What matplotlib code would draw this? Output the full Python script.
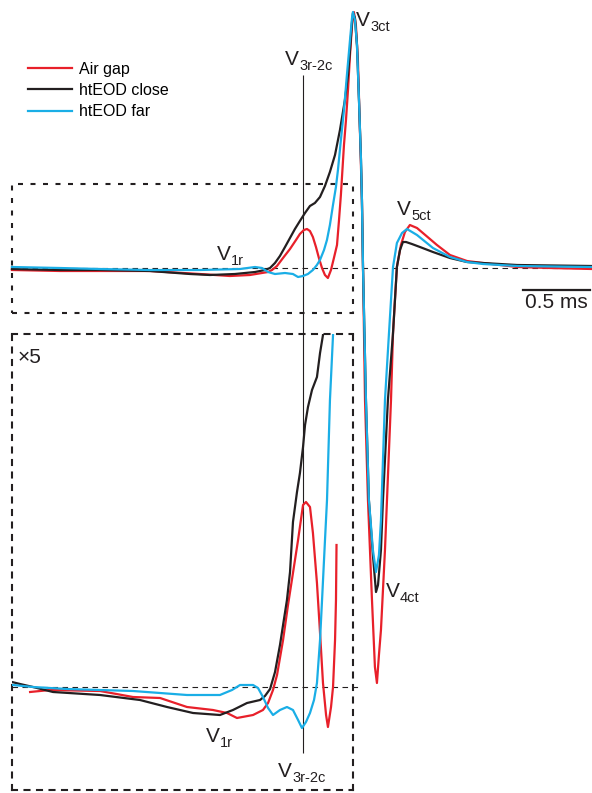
import matplotlib
matplotlib.use("Agg")
import matplotlib.pyplot as plt
from matplotlib.patches import Rectangle

plt.rcParams['font.family'] = ['Liberation Sans', 'DejaVu Sans']

RED = '#e8202a'
BLACK = '#231f20'
BLUE = '#1aaee6'

# time in ms (0 = V3ct peak), amplitude in arbitrary units
### full-scale traces
t_air = [-2.545, -2.187, -1.888, -1.515, -1.142, -0.918, -0.769, -0.679, -0.634, -0.604,
         -0.567, -0.522, -0.470, -0.425, -0.396, -0.366, -0.343, -0.321, -0.299, -0.276,
         -0.254, -0.231, -0.209, -0.187, -0.164, -0.142, -0.119, -0.104, -0.090, -0.067,
         -0.052, -0.037, -0.022, -0.007, 0.007, 0.022, 0.037, 0.052, 0.067, 0.075,
         0.090, 0.112, 0.142, 0.164, 0.179, 0.194, 0.209, 0.239, 0.254, 0.284,
         0.299, 0.328, 0.358, 0.388, 0.425, 0.478, 0.522, 0.627, 0.724, 0.851,
         0.970, 1.224, 1.470, 1.784]
v_air = [-0.2, -0.3, -0.3, -0.3, -0.6, -0.8, -0.7, -0.5, -0.4, -0.2,
         0.2, 1.0, 1.9, 2.8, 3.4, 3.8, 3.9, 3.7, 3.1, 2.1,
         1.0, 0.0, -0.7, -1.0, -0.2, 1.0, 2.3, 4.8, 7.3, 12.3,
         14.8, 17.8, 21.3, 24.3, 25.6, 24.3, 20.8, 13.8, 6.8, 0.1,
         -13.2, -23.2, -33.2, -39.9, -41.5, -38.7, -36.2, -28.2, -23.2, -13.2,
         -6.5, 0.1, 2.3, 3.6, 4.3, 4.0, 3.5, 2.3, 1.3, 0.7,
         0.5, 0.1, 0.0, -0.1]

t_close = [-2.545, -2.187, -1.888, -1.515, -1.216, -1.067, -0.881, -0.731, -0.657, -0.619,
           -0.582, -0.545, -0.507, -0.470, -0.433, -0.396, -0.358, -0.321, -0.284, -0.246,
           -0.209, -0.172, -0.134, -0.097, -0.060, -0.037, -0.022, -0.007, 0.000, 0.015,
           0.030, 0.045, 0.060, 0.067, 0.075, 0.097, 0.119, 0.149, 0.172, 0.187,
           0.209, 0.224, 0.261, 0.299, 0.328, 0.351, 0.373, 0.396, 0.440, 0.500,
           0.597, 0.724, 0.851, 0.970, 1.224, 1.784]
v_close = [-0.1, -0.2, -0.2, -0.3, -0.6, -0.7, -0.6, -0.4, -0.2, 0.0,
           0.5, 1.2, 2.1, 3.0, 3.9, 4.7, 5.5, 6.2, 6.5, 7.1,
           8.2, 9.6, 11.3, 13.8, 16.8, 19.3, 21.8, 24.6, 25.5, 25.0,
           22.3, 16.8, 10.8, 6.8, 0.1, -13.2, -23.2, -28.7, -32.4, -31.7,
           -28.2, -23.2, -13.2, -6.5, 0.1, 1.8, 2.6, 2.6, 2.4, 2.1,
           1.6, 1.0, 0.6, 0.5, 0.3, 0.2]

t_far = [-2.545, -2.187, -1.888, -1.515, -1.142, -0.843, -0.731, -0.679, -0.634, -0.582,
         -0.507, -0.448, -0.410, -0.373, -0.336, -0.299, -0.269, -0.246, -0.216, -0.194,
         -0.172, -0.149, -0.127, -0.112, -0.090, -0.067, -0.045, -0.022, -0.007, 0.000,
         0.015, 0.030, 0.045, 0.060, 0.067, 0.075, 0.097, 0.119, 0.149, 0.172,
         0.194, 0.209, 0.224, 0.239, 0.269, 0.299, 0.328, 0.366, 0.403, 0.478,
         0.597, 0.724, 0.851, 0.970, 1.224, 1.784]
v_far = [0.1, 0.0, -0.1, -0.2, -0.2, -0.1, 0.1, 0.0, -0.4, -0.6,
         -0.5, -0.6, -0.9, -0.8, -0.6, -0.2, 0.3, 0.8, 1.8, 2.8,
         4.3, 6.3, 8.1, 9.8, 12.8, 15.8, 19.3, 22.8, 25.0, 25.6,
         24.8, 22.3, 16.8, 10.8, 6.8, 0.1, -13.2, -23.2, -28.2, -30.4,
         -28.7, -25.2, -19.2, -13.2, -6.5, 0.1, 2.5, 3.5, 3.9, 3.3,
         2.0, 1.1, 0.6, 0.4, 0.2, 0.1]

### x5 traces (early part)
tz_air = [-2.410, -2.261, -1.888, -1.642, -1.440, -1.239, -1.045, -0.940, -0.866, -0.746,
          -0.672, -0.634, -0.597, -0.567, -0.522, -0.485, -0.448, -0.410, -0.373, -0.351,
          -0.321, -0.299, -0.269, -0.246, -0.224, -0.201, -0.187, -0.164, -0.149, -0.134,
          -0.127, -0.123]
vz_air = [-0.10, -0.06, -0.08, -0.20, -0.22, -0.40, -0.46, -0.52, -0.62, -0.56,
          -0.46, -0.32, -0.06, 0.24, 0.94, 1.64, 2.28, 2.94, 3.64, 3.70,
          3.60, 3.08, 2.08, 1.08, 0.08, -0.56, -0.80, -0.40, 0.00, 0.94,
          1.74, 2.84]

tz_close = [-2.545, -2.485, -2.388, -2.239, -1.888, -1.590, -1.388, -1.194, -0.993, -0.896,
            -0.791, -0.694, -0.657, -0.619, -0.582, -0.545, -0.522, -0.493, -0.470, -0.448,
            -0.418, -0.396, -0.373, -0.358, -0.336, -0.306, -0.269, -0.246, -0.224, -0.201]
vz_close = [0.10, 0.06, 0.00, -0.10, -0.16, -0.26, -0.40, -0.52, -0.56, -0.46,
            -0.32, -0.26, -0.18, -0.04, 0.30, 0.84, 1.24, 1.74, 2.30, 3.30,
            3.90, 4.28, 4.80, 5.24, 5.60, 5.94, 6.20, 6.68, 7.04, 7.74]

tz_far = [-2.537, -2.388, -2.134, -1.888, -1.642, -1.440, -1.239, -0.993, -0.903, -0.843,
          -0.746, -0.709, -0.672, -0.634, -0.597, -0.545, -0.493, -0.448, -0.410, -0.381,
          -0.351, -0.321, -0.291, -0.269, -0.246, -0.231, -0.209, -0.194, -0.172, -0.149,
          -0.134]
vz_far = [0.04, 0.00, -0.04, -0.06, -0.08, -0.12, -0.16, -0.16, -0.06, 0.04,
          0.04, -0.02, -0.20, -0.42, -0.56, -0.46, -0.40, -0.46, -0.66, -0.82,
          -0.70, -0.52, -0.26, 0.08, 0.94, 1.74, 2.94, 3.74, 5.74, 7.04,
          7.94]

t_3r2c = -0.373   # time of the V3r-2c marker

BOX_LS = (0, (2.4, 3.6))

fig = plt.figure(figsize=(5.92, 7.93), dpi=100)

ax = fig.add_axes([0, 0, 1, 1])
ax.set_xlim(-2.634, 1.784)
ax.set_ylim(-52.5, 26.8)
ax.axis('off')

ax.axhline(0, xmin=(-2.545 + 2.634) / 4.418, xmax=1, color=BLACK, lw=0.8, ls=(0, (5, 4)), zorder=1)
ax.add_patch(Rectangle((-2.545, -4.5), 2.545, 12.9, fill=False, ec=BLACK, lw=1.5,
                       ls=BOX_LS, zorder=1))
ax.vlines(t_3r2c, -48.5, 19.3, color=BLACK, lw=0.8, zorder=2)

l_air, = ax.plot(t_air, v_air, color=RED, lw=1.6, label='Air gap', zorder=3)
l_close, = ax.plot(t_close, v_close, color=BLACK, lw=1.6, label='htEOD close', zorder=4)
l_far, = ax.plot(t_far, v_far, color=BLUE, lw=1.6, label='htEOD far', zorder=5)

ax.legend(handles=[l_air, l_close, l_far], loc='upper left', bbox_to_anchor=(28 / 592, 1 - 62 / 793),
          frameon=False, fontsize=11.5, handlelength=2.75, handletextpad=0.45, labelspacing=0.38,
          borderpad=0, borderaxespad=0)


def vlabel(axis, x, y, sub):
    axis.text(x, y, 'V', fontsize=15, color=BLACK, va='baseline', ha='left')
    axis.annotate(sub, (x, y), xytext=(10.2, -3.5), textcoords='offset points',
                  fontsize=10.5, color=BLACK, va='baseline', ha='left')


vlabel(ax, 0.022, 24.2, '3ct')
vlabel(ax, -0.507, 20.3, '3r-2c')
vlabel(ax, -1.015, 0.8, '1r')
vlabel(ax, 0.328, 5.3, '5ct')
vlabel(ax, 0.246, -32.9, '4ct')

# scale bar
ax.plot([1.269, 1.769], [-2.2, -2.2], color=BLACK, lw=1.6)
ax.text(1.519, -2.55, '0.5 ms', fontsize=15, color=BLACK, ha='center', va='top')

### x5 panel
ax2 = fig.add_axes([12 / 592, 3 / 793, 341 / 592, 456 / 793])
ax2.set_xlim(-2.545, 0)
ax2.set_ylim(-2.06, 7.06)
ax2.set_xticks([])
ax2.set_yticks([])
ax2.patch.set_alpha(0)
for s in ax2.spines.values():
    s.set_linestyle(BOX_LS)
    s.set_linewidth(1.5)
    s.set_color(BLACK)

ax2.plot([-2.545, 0.067], [0, 0], color=BLACK, lw=0.8, ls=(0, (5, 4)), clip_on=False, zorder=1)
ax2.plot(tz_air, vz_air, color=RED, lw=1.6, zorder=3)
ax2.plot(tz_close, vz_close, color=BLACK, lw=1.6, zorder=4)
ax2.plot(tz_far, vz_far, color=BLUE, lw=1.6, zorder=5)

ax2.text(-2.507, 6.48, '\u00d75', fontsize=15, color=BLACK, ha='left', va='baseline')
vlabel(ax2, -1.097, -1.1, '1r')
vlabel(ax2, -0.560, -1.8, '3r-2c')

fig.savefig('out.png', dpi=100)
